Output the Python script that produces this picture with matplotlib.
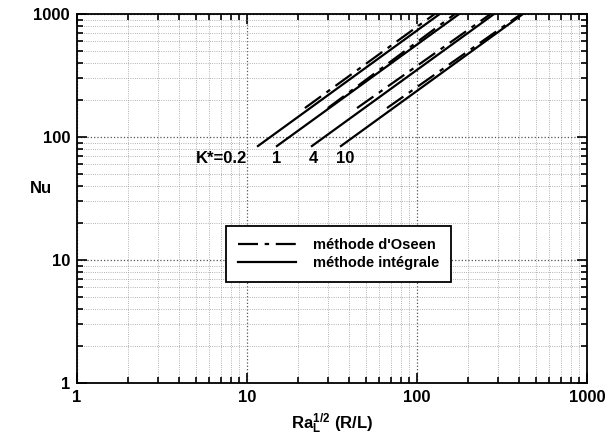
import matplotlib
matplotlib.use("Agg")
import matplotlib.pyplot as plt
from matplotlib.ticker import LogLocator, NullFormatter, FixedFormatter, FixedLocator

plt.rcParams['font.family'] = ['Liberation Sans', 'DejaVu Sans']
plt.rcParams['font.weight'] = 'bold'
plt.rcParams['mathtext.fontset'] = 'custom'
plt.rcParams['mathtext.rm'] = 'Liberation Sans:bold'
plt.rcParams['mathtext.it'] = 'Liberation Sans:bold'
plt.rcParams['mathtext.bf'] = 'Liberation Sans:bold'

# K* values of the curves
k_labels = ['K*=0.2', '1', '4', '10']

# méthode intégrale (solid): Ra_L^1/2 (R/L) vs Nu
integ_x = [[11.6, 136], [15.0, 177], [24.1, 284], [35.7, 420]]
integ_nu = [[84.5, 1000], [84.5, 1000], [84.5, 1000], [84.5, 1000]]

# méthode d'Oseen (dash-dot)
oseen_x = [[21.9, 127], [29.9, 167], [44.4, 271], [66.6, 410]]
oseen_nu = [[172, 1000], [172, 1000], [172, 1000], [172, 1000]]

# where the K* labels sit
label_x = [7.1, 15.0, 24.5, 38.0]
label_nu = [67, 67, 67, 67]

ticks = [1, 10, 100, 1000]
tick_text = ['1', '10', '100', '1000']

fig = plt.figure(figsize=(6.14, 4.40), dpi=100)
ax = fig.add_axes([0.1254, 0.1295, 0.8306, 0.8386])

ax.set_xscale('log')
ax.set_yscale('log')
ax.set_xlim(1, 1000)
ax.set_ylim(1, 1000)

dd = (9, 3, 2, 3)
for i in range(len(k_labels)):
    ax.plot(integ_x[i], integ_nu[i], color='black', lw=1.6,
            label='méthode intégrale' if i == 0 else None)
    ax.plot(oseen_x[i], oseen_nu[i], color='black', lw=1.6, dashes=dd,
            label="méthode d'Oseen" if i == 0 else None)
    ax.text(label_x[i], label_nu[i], k_labels[i], fontsize=12, fontweight='bold',
            ha='center', va='center')

# grid: major a bit darker, minor light dotted
ax.grid(True, which='major', color='#555555', ls=':', lw=0.9)
ax.grid(True, which='minor', color='#999999', ls=':', lw=0.6)

ax.xaxis.set_major_locator(FixedLocator(ticks))
ax.yaxis.set_major_locator(FixedLocator(ticks))
ax.xaxis.set_major_formatter(FixedFormatter(tick_text))
ax.yaxis.set_major_formatter(FixedFormatter(tick_text))
ax.xaxis.set_minor_locator(LogLocator(base=10, subs=range(2, 10)))
ax.yaxis.set_minor_locator(LogLocator(base=10, subs=range(2, 10)))
ax.xaxis.set_minor_formatter(NullFormatter())
ax.yaxis.set_minor_formatter(NullFormatter())
ax.tick_params(which='both', direction='in', top=True, right=True, width=1.2)
ax.tick_params(which='major', length=7, labelsize=12, pad=5)
ax.tick_params(which='minor', length=4)
for lab in ax.get_xticklabels() + ax.get_yticklabels():
    lab.set_fontweight('bold')
for sp in ax.spines.values():
    sp.set_linewidth(1.3)

ax.set_xlabel(r'$Ra_L^{1/2}$ (R/L)', fontsize=12, fontweight='bold', labelpad=5)
ax.set_ylabel('Nu', fontsize=12, fontweight='bold', rotation=0, va='center')
ax.yaxis.set_label_coords(-0.07, 0.528)

h, l = ax.get_legend_handles_labels()
order = [1, 0]
leg = ax.legend([h[j] for j in order], [l[j] for j in order],
                loc='center', bbox_to_anchor=(0.513, 0.35),
                fancybox=False, framealpha=1, edgecolor='black',
                prop={'weight': 'bold', 'size': 10.5}, handlelength=4.0,
                handletextpad=1.2, borderpad=0.8, labelspacing=0.3)
leg.get_frame().set_linewidth(1.3)

fig.savefig('out.png', dpi=100)
